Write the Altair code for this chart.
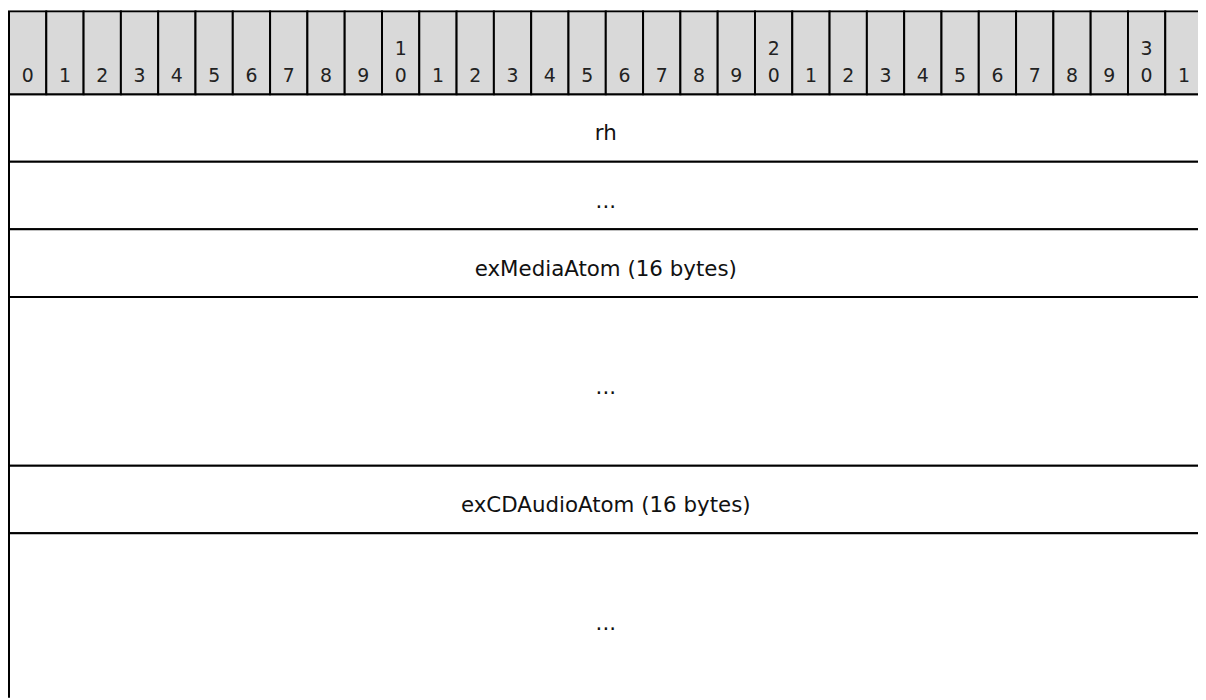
import altair as alt
import pandas as pd

# ---- data ----
bits = list(range(32))
ones_labels = [str(b % 10) for b in bits]
tens_labels = [str(b // 10) if (b % 10 == 0 and b > 0) else "" for b in bits]

row_names = ["rh", "...", "exMediaAtom (16 bytes)", "...", "exCDAudioAtom (16 bytes)", "..."]
row_spans = [1, 1, 1, 2.5, 1, 2.5]

header_span = 1.228
n_bits = 32

# ---- tables built from data ----
hdr = pd.DataFrame({
    "b0": bits,
    "b1": [b + 1 for b in bits],
    "bc": [b + 0.5 for b in bits],
    "ones": ones_labels,
    "tens": tens_labels,
    "y0": [0.0] * len(bits),
    "y1": [header_span] * len(bits),
})

y0s, y1s = [], []
cur = header_span
for s in row_spans:
    y0s.append(cur)
    cur += s
    y1s.append(cur)
rows = pd.DataFrame({
    "name": row_names,
    "x0": [0] * len(row_names),
    "x1": [n_bits] * len(row_names),
    "xc": [n_bits / 2] * len(row_names),
    "y0": y0s,
    "y1": y1s,
    "yc": [(a + b) / 2 for a, b in zip(y0s, y1s)],
})

W, H = 1198, 692
px_per_bit = 37.55
px_per_row = 68.0
xd0 = -1.0 / px_per_bit
xd1 = xd0 + W / px_per_bit
yd0 = -1.0 / px_per_row
yd1 = yd0 + H / px_per_row

xs = alt.Scale(domain=[xd0, xd1], nice=False, zero=False)
ys = alt.Scale(domain=[yd0, yd1], nice=False, zero=False, reverse=True)
noax = None

FONT = "DejaVu Sans"

hdr_cells = alt.Chart(hdr).mark_rect(
    fill="#d9d9d9", stroke="#000000", strokeWidth=2, clip=True
).encode(
    x=alt.X("b0:Q", scale=xs, axis=noax),
    x2="b1:Q",
    y=alt.Y("y0:Q", scale=ys, axis=noax),
    y2="y1:Q",
)

hdr_ones = alt.Chart(hdr).mark_text(
    font=FONT, fontSize=19, color="#222222", baseline="alphabetic",
    align="center", dy=-12.5, clip=True
).encode(
    x=alt.X("bc:Q", scale=xs, axis=noax),
    y=alt.Y("y1:Q", scale=ys, axis=noax),
    text="ones:N",
)

hdr_tens = alt.Chart(hdr).mark_text(
    font=FONT, fontSize=19, color="#222222", baseline="alphabetic",
    align="center", dy=-39.2, clip=True
).encode(
    x=alt.X("bc:Q", scale=xs, axis=noax),
    y=alt.Y("y1:Q", scale=ys, axis=noax),
    text="tens:N",
)

row_cells = alt.Chart(rows).mark_rect(
    fill="#ffffff", stroke="#000000", strokeWidth=2, clip=True
).encode(
    x=alt.X("x0:Q", scale=xs, axis=noax),
    x2="x1:Q",
    y=alt.Y("y0:Q", scale=ys, axis=noax),
    y2="y1:Q",
)

row_text = alt.Chart(rows).mark_text(
    font=FONT, fontSize=21.5, color="#111111", baseline="alphabetic",
    align="center", dy=12.5, clip=True
).encode(
    x=alt.X("xc:Q", scale=xs, axis=noax),
    y=alt.Y("yc:Q", scale=ys, axis=noax),
    text="name:N",
)

chart = alt.layer(row_cells, hdr_cells, hdr_ones, hdr_tens, row_text).properties(
    width=W, height=H,
    autosize=alt.AutoSizeParams(type="none"),
    padding=0,
    background="#ffffff",
).configure_view(stroke=None)

chart.save("out.html", embed_options={"renderer": "svg", "actions": False})
